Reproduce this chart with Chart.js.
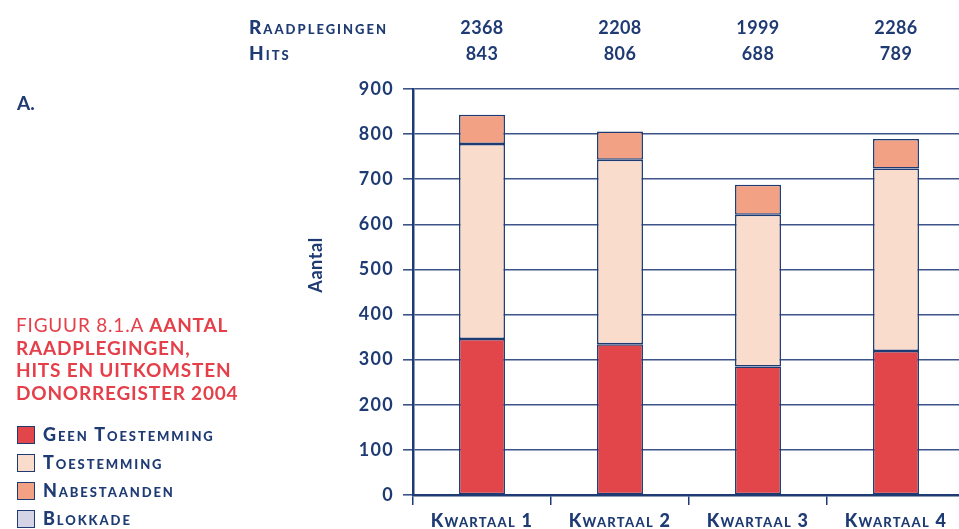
<!DOCTYPE html>
<html>
<head>
<meta charset="utf-8">
<script src="https://cdn.jsdelivr.net/npm/chart.js@4/dist/chart.umd.min.js"></script>
<style>
  html, body { margin: 0; padding: 0; background: #fff; overflow: hidden; width: 959px; height: 529px; }
  #wrap { position: relative; width: 959px; height: 529px; overflow: hidden; }
  canvas { position: absolute; left: 0; top: 0; }
  .txt { position: absolute; font-family: Lato, "Open Sans", sans-serif; color: #1f3b73; white-space: nowrap; }
  #panel { left: 17px; top: 92px; font-weight: 700; font-size: 19px; line-height: 22px; }
  #title { left: 16px; top: 314px; color: #e5404a; font-size: 19px; line-height: 22.6px; letter-spacing: 0.8px; }
  #legend { left: 17px; top: 426px; }
  .item { position: relative; height: 28px; font-weight: 900; font-size: 18px; font-variant: small-caps; }
  .box { position: absolute; left: 0; top: 0; width: 16px; height: 16px; border: 1.5px solid #1f3b73; }
  .lab { position: absolute; left: 26px; top: -2px; line-height: 20px; letter-spacing: 1.9px; }
</style>
</head>
<body>
<div id="wrap">
  <canvas id="c" width="965" height="529"></canvas>
  <div class="txt" id="panel">A.</div>
  <div class="txt" id="title">FIGUUR 8.1.A <b>AANTAL<br>RAADPLEGINGEN,<br>HITS EN UITKOMSTEN<br>DONORREGISTER 2004</b></div>
  <div class="txt" id="legend"></div>
</div>
<script>
// Quarters of 2004
const quarters = ['Kwartaal 1', 'Kwartaal 2', 'Kwartaal 3', 'Kwartaal 4'];

// Register consultations and hits per quarter
const raadplegingen = [2368, 2208, 1999, 2286];
const hits = [843, 806, 688, 789];

// Outcome of each hit, per quarter
const geenToestemming = [346, 334, 285, 319];
const toestemming = [432, 409, 336, 405];
const nabestaanden = [65, 63, 67, 65];
const blokkade = [0, 0, 0, 0];

const seriesNames = ['Geen Toestemming', 'Toestemming', 'Nabestaanden', 'Blokkade'];
const seriesColors = ['#e2454a', '#fadccd', '#f2a185', '#d4d4e6'];

const yTicks = [0, 100, 200, 300, 400, 500, 600, 700, 800, 900];

const NAVY = '#1f3b73';
const GRID = '#3c5489';

// Legend below the title
const legendEl = document.getElementById('legend');
seriesNames.forEach((name, i) => {
  const row = document.createElement('div');
  row.className = 'item';
  row.innerHTML = '<span class="box" style="background:' + seriesColors[i] + '"></span><span class="lab">' + name + '</span>';
  legendEl.appendChild(row);
});

// Wider tracking for the axis lettering, plus the header rows and axis name
const lettering = {
  id: 'lettering',
  beforeDraw(chart) {
    chart.ctx.letterSpacing = '1.3px';
  },
  afterDraw(chart) {
    const ctx = chart.ctx;
    const xs = chart.scales.x;
    const ys = chart.scales.y;
    ctx.save();
    ctx.fillStyle = NAVY;
    ctx.textBaseline = 'middle';
    ctx.textAlign = 'left';
    ctx.letterSpacing = '2px';
    ctx.font = 'small-caps 900 19px Lato';
    ctx.fillText('Raadplegingen', 249, 28);
    ctx.fillText('Hits', 249, 54);
    ctx.letterSpacing = '0.4px';
    ctx.textAlign = 'center';
    ctx.font = 'bold 18px Lato';
    quarters.forEach((q, i) => {
      const x = xs.getPixelForValue(i);
      ctx.fillText(String(raadplegingen[i]), x, 28);
      ctx.fillText(String(hits[i]), x, 54);
    });
    // y-axis name, placed beside the 400-600 band
    ctx.translate(ys.left + 16, ys.getPixelForValue(510));
    ctx.rotate(-Math.PI / 2);
    ctx.letterSpacing = '0.6px';
    ctx.font = 'bold 18px Lato';
    ctx.fillText('Aantal', 0, 0);
    ctx.restore();
    ctx.letterSpacing = '0px';
  }
};

const data = [geenToestemming, toestemming, nabestaanden, blokkade];

new Chart(document.getElementById('c'), {
  type: 'bar',
  data: {
    labels: quarters,
    datasets: data.map((vals, i) => ({
      label: seriesNames[i],
      data: vals,
      backgroundColor: seriesColors[i],
      borderColor: NAVY,
      borderWidth: 1.5,
      borderSkipped: false,
      categoryPercentage: 1,
      barPercentage: 0.333
    }))
  },
  options: {
    responsive: false,
    animation: false,
    devicePixelRatio: 1,
    layout: { padding: { left: 300, top: 89, right: 0, bottom: 0 } },
    plugins: { legend: { display: false }, tooltip: { enabled: false } },
    scales: {
      x: {
        stacked: true,
        offset: true,
        grid: { offset: true, drawOnChartArea: false, drawTicks: true, tickLength: 10, color: NAVY, lineWidth: 1.5 },
        border: { display: true, color: NAVY, width: 2.5 },
        ticks: {
          color: NAVY,
          padding: 5,
          font: { family: 'Lato', weight: 'small-caps 900', size: 18 }
        },
        afterFit(scale) { scale.height = 34; }
      },
      y: {
        stacked: true,
        min: 0,
        max: 900,
        afterBuildTicks(scale) { scale.ticks = yTicks.map(v => ({ value: v })); },
        grid: { color: GRID, lineWidth: 1.6, tickLength: 10 },
        border: { display: true, color: NAVY, width: 2.5 },
        ticks: {
          color: NAVY,
          padding: 9,
          font: { family: 'Lato', weight: 'bold', size: 18 }
        },
        afterFit(scale) { scale.width = 113; }
      }
    }
  },
  plugins: [lettering]
});
</script>
</body>
</html>
